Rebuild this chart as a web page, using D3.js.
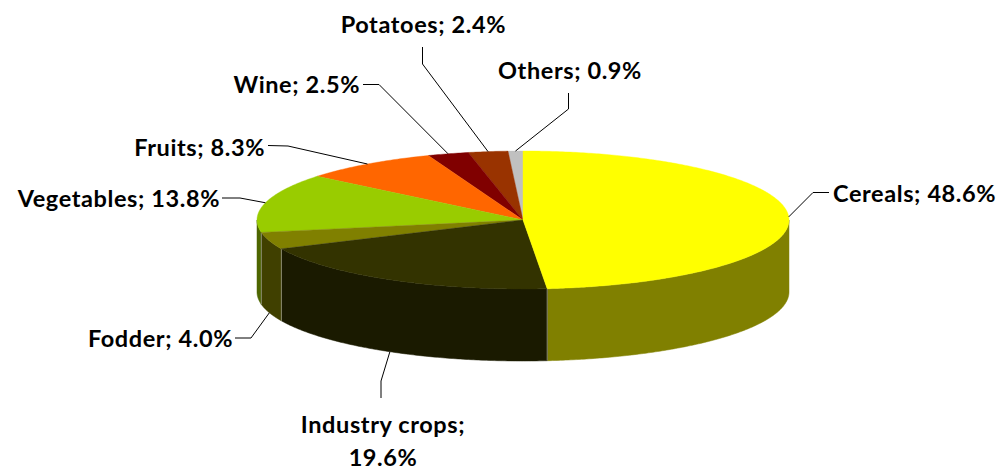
<!DOCTYPE html>
<html><head><meta charset="utf-8">
<script src="https://cdn.jsdelivr.net/npm/d3@7"></script>
<style>html,body{margin:0;padding:0;background:#fff}svg{display:block}text{font-family:Lato,sans-serif;font-weight:700;font-size:23.5px;letter-spacing:0.6px;fill:#000}</style>
</head><body><svg id="c" width="1001" height="471"></svg>
<script>
const categories=["Cereals","Industry crops","Fodder","Vegetables","Fruits","Wine","Potatoes","Others"];
const shares=[48.6,19.6,4.0,13.8,8.3,2.5,2.4,0.9];
const labelLines=[["Cereals; 48.6%"],["Industry crops;","19.6%"],["Fodder; 4.0%"],["Vegetables; 13.8%"],["Fruits; 8.3%"],["Wine; 2.5%"],["Potatoes; 2.4%"],["Others; 0.9%"]];
const topColors=["#ffff00","#333300","#808000","#99cc00","#ff6600","#800000","#993300","#c0c0c0"];
const wallColors=["#808000","#1a1a00","#404000","#4d6600","#803300","#400000","#4d1a00","#606060"];
// label layout: text anchor point, leader points going outward from the slice edge
const labelLayout=[
 {x:833,y:202,anchor:"start",elbow:[[813,192.5],[829,192.5]]},
 {x:383,y:433,anchor:"middle",dy:33,elbow:[[381,381],[381,398]],wall:true},
 {x:233,y:347,anchor:"end",elbow:[[251,338],[235,338]],wall:true},
 {x:220,y:207,anchor:"end",elbow:[[240,198],[222,198]]},
 {x:265,y:156,anchor:"end",elbow:[[288,146],[268,145.5]]},
 {x:360,y:93,anchor:"end",elbow:[[379,84.5],[363,84.5]]},
 {x:506,y:33,anchor:"end",elbow:[[422.5,64],[422.5,47]]},
 {x:498,y:79,anchor:"start",elbow:[[568.5,109],[568.5,93]]}
];
const cx=523,cy=220,rx=266,ry=69,depth=72;
const svg=d3.select("#c");
const xS=d3.scaleLinear().domain([-1,1]).range([cx-rx,cx+rx]);
const yS=d3.scaleLinear().domain([-1,1]).range([cy+ry,cy-ry]);
// angle measured clockwise from top
const px=a=>xS(Math.sin(a)), py=(a,d=0)=>yS(Math.cos(a))+d;
// shares are percentages of the full circle (the rounded labels sum to 100.1)
const pie=d3.pie().sort(null).value(d=>d).startAngle(0).endAngle(2*Math.PI*d3.sum(shares)/100)(shares);
const line=d3.line();
const sample=(a0,a1)=>{const n=Math.max(2,Math.ceil((a1-a0)/0.01));return d3.range(n+1).map(i=>a0+(a1-a0)*i/n);};
const seam="#8a8a70";
// outer walls: only the near half of the rim
const walls=pie.map((p,i)=>({i,a0:Math.max(p.startAngle,Math.PI/2),a1:Math.min(p.endAngle,Math.PI*1.5)})).filter(w=>w.a1>w.a0);
svg.append("g").selectAll("path").data(walls).join("path")
 .attr("d",w=>{const s=sample(w.a0,w.a1);
   const top=s.map(a=>[px(a),py(a)]);
   const bot=s.slice().reverse().map(a=>[px(a),py(a,depth)]);
   return line(top.concat(bot))+"Z";})
 .attr("fill",w=>wallColors[w.i]).attr("stroke",w=>wallColors[w.i]).attr("stroke-width",0.5);
// seams between wall segments
svg.append("g").selectAll("line").data(walls.slice(1)).join("line")
 .attr("x1",w=>px(w.a0)).attr("x2",w=>px(w.a0)).attr("y1",w=>py(w.a0)).attr("y2",w=>py(w.a0,depth))
 .attr("stroke",seam).attr("stroke-width",1);
// top faces, last slice first so the first slice keeps its edge at the top
svg.append("g").selectAll("path").data(pie.slice().reverse()).join("path")
 .attr("d",p=>line([[cx,cy]].concat(sample(p.startAngle,p.endAngle).map(a=>[px(a),py(a)])))+"Z")
 .attr("fill",p=>topColors[p.index]).attr("stroke",p=>topColors[p.index]).attr("stroke-width",0.4);
// leaders and labels
const g=svg.append("g");
labelLayout.forEach((l,i)=>{
 const m=(pie[i].startAngle+pie[i].endAngle)/2;
 const start=[px(m),py(m,l.wall?depth:0)];
 g.append("path").attr("d",line([start].concat(l.elbow))).attr("fill","none").attr("stroke","#000").attr("stroke-width",1);
 const t=g.append("text").attr("x",l.x).attr("y",l.y).attr("text-anchor",l.anchor);
 labelLines[i].forEach((s,k)=>t.append("tspan").attr("x",l.x).attr("y",l.y+k*(l.dy||0)).text(s));
});
</script></body></html>
